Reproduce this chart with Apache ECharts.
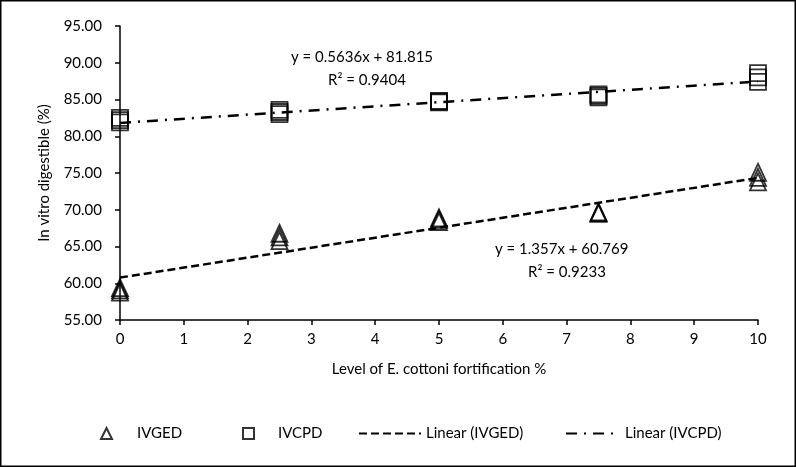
<!DOCTYPE html>
<html>
<head>
<meta charset="utf-8">
<script src="https://cdn.jsdelivr.net/npm/echarts@6/dist/echarts.min.js"></script>
<style>
  html, body { margin: 0; padding: 0; background: #fff; }
  #chart { width: 796px; height: 467px; }
</style>
</head>
<body>
<div id="chart"></div>
<script>
  // replicate readings per fortification level
  const ivgedX = [0, 0, 0, 2.5, 2.5, 2.5, 5, 5, 5, 7.5, 7.5, 7.5, 10, 10, 10]
  const ivgedY = [58.8, 59.1, 59.4, 65.8, 66.3, 66.8, 68.4, 68.7, 68.9, 69.5, 69.6, 69.7, 73.8, 74.4, 75.1]
  const ivcpdX = [0, 0, 0, 2.5, 2.5, 2.5, 5, 5, 5, 7.5, 7.5, 7.5, 10, 10, 10]
  const ivcpdY = [81.9, 82.2, 82.5, 83.0, 83.3, 83.6, 84.6, 84.7, 84.8, 85.3, 85.5, 85.7, 87.4, 88.0, 88.6]

  // trendline coefficients (from the chart's equations)
  const ivgedFit = [1.357, 60.769]
  const ivcpdFit = [0.5636, 81.815]
  const fitRange = [0, 10]

  const yTicks = [55, 95, 5]
  const xTicks = [0, 10, 1]

  const FONT = 'Lato'
  const pairs = (xs, ys) => xs.map((x, i) => [x, ys[i]])
  const trend = (fit) => fitRange.map(x => [x, fit[0] * x + fit[1]])

  const chart = echarts.init(document.getElementById('chart'))

  const markerStyle = { color: 'rgba(0,0,0,0)', borderColor: '#000', borderWidth: 1.8 }
  const legendText = { fontSize: 15, color: '#000', fontFamily: FONT }

  chart.setOption({
    animation: false,
    backgroundColor: '#fff',
    color: ['#000'],
    textStyle: { fontFamily: FONT },
    grid: { left: 120, right: 38, top: 26, bottom: 147, containLabel: false },
    xAxis: {
      type: 'value',
      min: xTicks[0],
      max: xTicks[1],
      interval: xTicks[2],
      name: 'Level of E. cottoni fortification %',
      nameLocation: 'middle',
      nameGap: 42,
      nameTextStyle: { fontSize: 15, color: '#000', fontFamily: FONT },
      axisLine: { lineStyle: { color: '#000', width: 1.5 } },
      axisTick: { show: true, length: 5, lineStyle: { color: '#000', width: 1.5 } },
      axisLabel: { fontSize: 15, color: '#000', margin: 12, fontFamily: FONT },
      splitLine: { show: false }
    },
    yAxis: {
      type: 'value',
      min: yTicks[0],
      max: yTicks[1],
      interval: yTicks[2],
      name: 'In vitro digestible (%)',
      nameLocation: 'middle',
      nameGap: 68,
      nameTextStyle: { fontSize: 15, color: '#000', fontFamily: FONT },
      axisLine: { show: true, lineStyle: { color: '#000', width: 1.5 } },
      axisTick: { show: true, length: 5, lineStyle: { color: '#000', width: 1.5 } },
      axisLabel: {
        fontSize: 15, color: '#000', margin: 18, fontFamily: FONT,
        formatter: v => v.toFixed(2)
      },
      splitLine: { show: false }
    },
    legend: [
      { data: ['IVGED'], left: 95, top: 421, itemWidth: 11, itemHeight: 11,
        textStyle: Object.assign({ padding: [0, 0, 0, 20] }, legendText) },
      { data: ['IVCPD'], left: 237, top: 421, itemWidth: 11, itemHeight: 11,
        textStyle: Object.assign({ padding: [0, 0, 0, 19] }, legendText) },
      { data: ['Linear (IVGED)'], left: 353, top: 421, itemWidth: 62, itemHeight: 11,
        itemStyle: { opacity: 0 }, textStyle: Object.assign({ padding: [0, 0, 0, 0] }, legendText) },
      { data: ['Linear (IVCPD)'], left: 560, top: 421, itemWidth: 49, itemHeight: 11,
        itemStyle: { opacity: 0 }, textStyle: Object.assign({ padding: [0, 0, 0, 5] }, legendText) }
    ],
    series: [
      {
        name: 'Linear (IVGED)',
        type: 'line',
        data: trend(ivgedFit),
        symbol: 'none',
        itemStyle: { color: '#000' },
        lineStyle: { color: '#000', width: 2.5, type: [8, 4] },
        z: 1
      },
      {
        name: 'Linear (IVCPD)',
        type: 'line',
        data: trend(ivcpdFit),
        symbol: 'none',
        itemStyle: { color: '#000' },
        lineStyle: { color: '#000', width: 2.5, type: [11, 7, 2, 7] },
        z: 1
      },
      {
        name: 'IVGED',
        type: 'scatter',
        data: pairs(ivgedX, ivgedY),
        symbol: 'triangle',
        symbolSize: [16, 17],
        itemStyle: markerStyle,
        z: 3
      },
      {
        name: 'IVCPD',
        type: 'scatter',
        data: pairs(ivcpdX, ivcpdY),
        symbol: 'rect',
        symbolSize: [16, 16],
        itemStyle: markerStyle,
        z: 3
      }
    ],
    graphic: [
      { type: 'rect', shape: { x: 0.75, y: 0.75, width: 794.5, height: 465.5 },
        style: { fill: 'none', stroke: '#000', lineWidth: 1.5 }, silent: true },
      { type: 'text', left: 291, top: 50,
        style: { text: 'y = 0.5636x + 81.815', font: '15px Lato', fill: '#000' } },
      { type: 'text', left: 328, top: 73,
        style: { text: 'R² = 0.9404', font: '15px Lato', fill: '#000' } },
      { type: 'text', left: 495, top: 242,
        style: { text: 'y = 1.357x + 60.769', font: '15px Lato', fill: '#000' } },
      { type: 'text', left: 528, top: 265,
        style: { text: 'R² = 0.9233', font: '15px Lato', fill: '#000' } }
    ]
  })
</script>
</body>
</html>
